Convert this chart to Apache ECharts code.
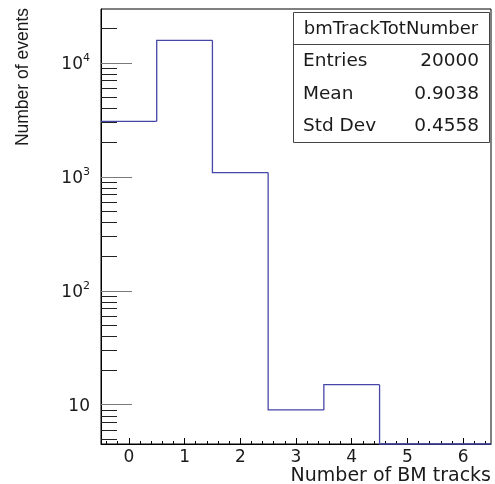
<!DOCTYPE html>
<html>
<head>
<meta charset="utf-8">
<title>bmTrackTotNumber</title>
<script src="https://cdn.jsdelivr.net/npm/echarts@6/dist/echarts.min.js"></script>
<style>
  html, body { margin: 0; padding: 0; background: #fff; }
  #chart { width: 495px; height: 484px; }
</style>
</head>
<body>
<div id="chart"></div>
<script>
// Histogram: number of beam-monitor tracks per event (unit-width bins centred on integers)
const binCenters = [0, 1, 2, 3, 4, 5, 6];
const binCounts  = [3078, 15807, 1091, 9, 15, 0, 0];

// Axis ranges
const xRange = [-0.5, 6.5];
const yRange = [4.52, 29800];

// Tick positions
const xMajorTicks = [0, 1, 2, 3, 4, 5, 6];
const xMinorTicks = [];
for (let i = -2; i <= 32; i++) { if (i % 5 !== 0) xMinorTicks.push(+(i * 0.2).toFixed(1)); }
const yMinorTicks = [5, 6, 7, 8, 9,
                     20, 30, 40, 50, 60, 70, 80, 90,
                     200, 300, 400, 500, 600, 700, 800, 900,
                     2000, 3000, 4000, 5000, 6000, 7000, 8000, 9000,
                     20000];

const histName = 'bmTrackTotNumber';
const FONT = 'DejaVu Sans';
const LINE_COLOR = '#4646a6';
const TEXT_COLOR = '#1a1a1a';

// Statistics shown in the box, computed from the bin contents
const entries = binCounts.reduce((a, b) => a + b, 0);
const sumX  = binCounts.reduce((a, c, i) => a + c * binCenters[i], 0);
const sumX2 = binCounts.reduce((a, c, i) => a + c * binCenters[i] * binCenters[i], 0);
const mean = sumX / entries;
const stdDev = Math.sqrt(sumX2 / entries - mean * mean);

// Each bin: [low edge, high edge, content, previous bin content]
const binData = binCenters.map((c, i) => [c - 0.5, c + 0.5, binCounts[i], i > 0 ? binCounts[i - 1] : binCounts[i]]);

const chart = echarts.init(document.getElementById('chart'), null, { renderer: 'canvas' });

const superscript = v => {
  const p = Math.round(Math.log10(v));
  return p === 1 ? '{b|10}' : '{b|10}{s|' + p + '}';
};

chart.setOption({
  animation: false,
  backgroundColor: '#fff',
  grid: {
    left: 101, right: 4, top: 9, bottom: 40,
    containLabel: false, outerBoundsMode: 'none',
    show: true, borderColor: '#000', borderWidth: 1, backgroundColor: 'transparent'
  },
  xAxis: [{
    type: 'value', min: xRange[0], max: xRange[1],
    name: 'Number of BM tracks', nameLocation: 'end', nameGap: 0,
    nameMoveOverlap: false,
    nameTextStyle: { fontFamily: FONT, fontSize: 19, color: TEXT_COLOR, align: 'right', verticalAlign: 'top', padding: [23, 0, 0, 0] },
    axisLine: { show: true, onZero: false, lineStyle: { color: '#000', width: 1 } },
    axisTick: { show: true, inside: true, length: 6, customValues: xMajorTicks, lineStyle: { color: '#000' } },
    axisLabel: { show: true, customValues: xMajorTicks, margin: 5, fontFamily: FONT, fontSize: 17, color: TEXT_COLOR },
    splitLine: { show: false }
  }, {
    type: 'value', min: xRange[0], max: xRange[1], position: 'bottom',
    axisLine: { show: false, onZero: false },
    axisTick: { show: true, inside: true, length: 3, customValues: xMinorTicks, lineStyle: { color: '#000' } },
    axisLabel: { show: false },
    splitLine: { show: false }
  }],
  yAxis: [{
    type: 'log', logBase: 10, min: yRange[0], max: yRange[1], position: 'left',
    axisLine: { show: true, onZero: false, lineStyle: { color: '#000', width: 1 } },
    axisTick: { show: true, inside: true, length: 31, lineStyle: { color: '#7a7a7a' } },
    axisLabel: {
      showMinLabel: false, showMaxLabel: false, margin: 11,
      formatter: superscript,
      rich: {
        b: { fontFamily: FONT, fontSize: 17, color: TEXT_COLOR, verticalAlign: 'bottom', lineHeight: 20 },
        s: { fontFamily: FONT, fontSize: 11, color: TEXT_COLOR, verticalAlign: 'top', lineHeight: 12 }
      }
    },
    splitLine: { show: false }
  }, {
    type: 'log', logBase: 10, min: yRange[0], max: yRange[1], position: 'left',
    axisLine: { show: false, onZero: false },
    axisTick: { show: true, inside: true, length: 16, customValues: yMinorTicks, lineStyle: { color: '#222' } },
    axisLabel: { show: false },
    splitLine: { show: false }
  }],
  series: [{
    type: 'custom',
    name: histName,
    xAxisIndex: 0, yAxisIndex: 0,
    clip: false,
    z: 5,
    data: binData,
    encode: { x: [0, 1], y: [2, 3] },
    renderItem: (params, api) => {
      const lo = api.value(0), hi = api.value(1);
      const v = Math.max(api.value(2), yRange[0]);
      const prev = Math.max(api.value(3), yRange[0]);
      const pts = [];
      if (params.dataIndex > 0) pts.push(api.coord([lo, prev]));
      pts.push(api.coord([lo, v]), api.coord([hi, v]));
      return {
        type: 'polyline',
        shape: { points: pts },
        style: { stroke: LINE_COLOR, lineWidth: 1.3, fill: null }
      };
    }
  }],
  graphic: [{
    type: 'group',
    children: [
      { type: 'rect', shape: { x: 293.5, y: 12.5, width: 196, height: 130 }, style: { fill: '#fff', stroke: '#444', lineWidth: 1 } },
      { type: 'line', shape: { x1: 293.5, y1: 44.5, x2: 489.5, y2: 44.5 }, style: { stroke: '#444', lineWidth: 1 } },
      { type: 'text', x: 391, y: 29, style: { text: histName, fontFamily: FONT, fontSize: 18, fill: TEXT_COLOR, align: 'center', verticalAlign: 'middle' } },
      { type: 'text', x: 303, y: 61, style: { text: 'Entries', fontFamily: FONT, fontSize: 18.5, fill: TEXT_COLOR, align: 'left', verticalAlign: 'middle' } },
      { type: 'text', x: 479, y: 61, style: { text: String(entries), fontFamily: FONT, fontSize: 18.5, fill: TEXT_COLOR, align: 'right', verticalAlign: 'middle' } },
      { type: 'text', x: 303, y: 94.5, style: { text: 'Mean', fontFamily: FONT, fontSize: 18.5, fill: TEXT_COLOR, align: 'left', verticalAlign: 'middle' } },
      { type: 'text', x: 479, y: 94.5, style: { text: mean.toFixed(4), fontFamily: FONT, fontSize: 18.5, fill: TEXT_COLOR, align: 'right', verticalAlign: 'middle' } },
      { type: 'text', x: 303, y: 126.5, style: { text: 'Std Dev', fontFamily: FONT, fontSize: 18.5, fill: TEXT_COLOR, align: 'left', verticalAlign: 'middle' } },
      { type: 'text', x: 479, y: 126.5, style: { text: stdDev.toFixed(4), fontFamily: FONT, fontSize: 18.5, fill: TEXT_COLOR, align: 'right', verticalAlign: 'middle' } },
      { type: 'text', x: 23, y: 8, rotation: Math.PI / 2, style: { text: 'Number of events', fontFamily: 'Liberation Sans', fontSize: 17.5, fill: TEXT_COLOR, align: 'right', verticalAlign: 'middle' } }
    ]
  }]
});
</script>
</body>
</html>
